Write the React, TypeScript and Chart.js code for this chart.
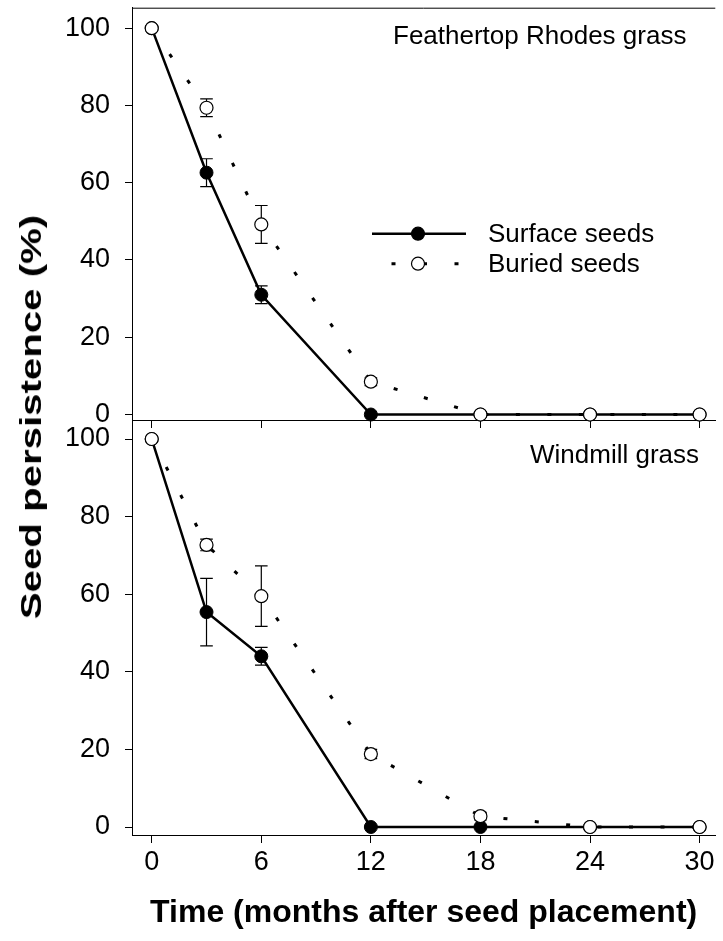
import React, { useEffect, useRef } from 'react';
import { Chart, registerables } from 'chart.js';

Chart.register(...registerables);

const FONT = '"Liberation Sans", Arial, Helvetica, sans-serif';

// ---- data ----
const months = [0, 3, 6, 12, 18, 24, 30];
const xTicks = [0, 6, 12, 18, 24, 30];
const yTicks = [0, 20, 40, 60, 80, 100];

const frSurface = [100, 62.6, 31.0, 0, 0, 0, 0];
const frSurfaceErr = [0, 3.6, 2.3, 0, 0, 0, 0];
const frBuried = [100, 79.4, 49.2, 8.5, 0, 0, 0];
const frBuriedErr = [0, 2.3, 4.9, 1.0, 0, 0, 0];

const wmSurface = [100, 55.4, 44.0, 0, 0, 0, 0];
const wmSurfaceErr = [0, 8.7, 2.3, 0, 0, 0, 0];
const wmBuried = [100, 72.7, 59.5, 18.8, 2.8, 0, 0];
const wmBuriedErr = [0, 1.5, 7.8, 1.2, 1.0, 0, 0];

const seriesNames = ['Surface seeds', 'Buried seeds'];
const panelNames = ['Feathertop Rhodes grass', 'Windmill grass'];
const xTitle = 'Time (months after seed placement)';
const yTitle = 'Seed persistence (%)';

const X_MIN = -1.08;
const X_MAX = 30.86;
const BURIED_DASH = [4, 27.5];

const errorBarPlugin = {
  id: 'errorBars',
  beforeDatasetsDraw(chart: any) {
    const ctx = chart.ctx;
    chart.data.datasets.forEach((ds: any, i: number) => {
      const errs = ds.errors;
      if (!errs) return;
      const meta = chart.getDatasetMeta(i);
      const yScale = chart.scales[meta.yAxisID];
      ctx.save();
      ctx.strokeStyle = '#000';
      ctx.lineWidth = 1.2;
      meta.data.forEach((pt: any, j: number) => {
        const e = errs[j];
        if (!e) return;
        const v = ds.data[j].y;
        const yTop = yScale.getPixelForValue(v + e);
        const yBot = yScale.getPixelForValue(v - e);
        const x = pt.x;
        const cap = 6.3;
        ctx.beginPath();
        ctx.moveTo(x, yTop);
        ctx.lineTo(x, yBot);
        ctx.moveTo(x - cap, yTop);
        ctx.lineTo(x + cap, yTop);
        ctx.moveTo(x - cap, yBot);
        ctx.lineTo(x + cap, yBot);
        ctx.stroke();
      });
      ctx.restore();
    });
  },
};

const decorPlugin = {
  id: 'panelDecor',
  afterDraw(chart: any, _args: any, opts: any) {
    const { ctx, chartArea } = chart;
    ctx.save();
    if (opts.topBorder) {
      ctx.strokeStyle = '#000';
      ctx.lineWidth = 1;
      ctx.beginPath();
      ctx.moveTo(chartArea.left, chartArea.top + 0.5);
      ctx.lineTo(chartArea.right, chartArea.top + 0.5);
      ctx.stroke();
    }
    if (opts.label) {
      ctx.fillStyle = '#000';
      ctx.font = `26px ${FONT}`;
      ctx.textAlign = 'left';
      ctx.textBaseline = 'alphabetic';
      ctx.fillText(opts.label, chartArea.left + opts.labelDx, chartArea.top + opts.labelDy);
    }
    if (opts.legend) {
      const x0 = chartArea.left + opts.legendDx;
      const x1 = x0 + 94;
      const xm = x0 + 46;
      const rows = [0, 1];
      rows.forEach((r) => {
        const y = chartArea.top + opts.legendDy + r * 30;
        ctx.strokeStyle = '#000';
        if (r === 0) {
          ctx.lineWidth = 2.5;
          ctx.setLineDash([]);
        } else {
          ctx.lineWidth = 3;
          ctx.setLineDash(BURIED_DASH);
          ctx.lineDashOffset = 12;
        }
        ctx.beginPath();
        ctx.moveTo(x0, y);
        ctx.lineTo(x1, y);
        ctx.stroke();
        ctx.setLineDash([]);
        ctx.beginPath();
        ctx.arc(xm, y, 6.5, 0, Math.PI * 2);
        ctx.fillStyle = r === 0 ? '#000' : '#fff';
        ctx.fill();
        ctx.lineWidth = 1.2;
        ctx.stroke();
        ctx.fillStyle = '#000';
        ctx.font = `26px ${FONT}`;
        ctx.textAlign = 'left';
        ctx.textBaseline = 'middle';
        ctx.fillText(seriesNames[r], x0 + 116, y + 1);
      });
    }
    ctx.restore();
  },
};

type PanelProps = {
  top: number;
  height: number;
  padTop: number;
  xAxisHeight: number;
  yMin: number;
  yMax: number;
  surface: number[];
  surfaceErr: number[];
  buried: number[];
  buriedErr: number[];
  bottomAxis: boolean;
  decor: any;
};

function Panel(p: PanelProps) {
  const ref = useRef<HTMLCanvasElement>(null);
  useEffect(() => {
    const chart = new Chart(ref.current as HTMLCanvasElement, {
      type: 'line',
      data: {
        datasets: [
          {
            label: seriesNames[0],
            data: months.map((m, i) => ({ x: m, y: p.surface[i] })),
            errors: p.surfaceErr,
            borderColor: '#000',
            backgroundColor: '#000',
            borderWidth: 2.5,
            pointRadius: 6.5,
            pointBorderWidth: 1,
            pointBackgroundColor: '#000',
            pointBorderColor: '#000',
            order: 1,
            clip: false,
          } as any,
          {
            label: seriesNames[1],
            data: months.map((m, i) => ({ x: m, y: p.buried[i] })),
            errors: p.buriedErr,
            borderColor: '#000',
            backgroundColor: '#fff',
            borderWidth: 3,
            borderDash: BURIED_DASH,
            borderCapStyle: 'butt',
            pointRadius: 6.5,
            pointBorderWidth: 1.2,
            pointBackgroundColor: '#fff',
            pointBorderColor: '#000',
            order: 0,
            clip: false,
          } as any,
        ],
      },
      options: {
        animation: false,
        responsive: false,
        devicePixelRatio: 1,
        layout: { padding: { top: p.padTop, left: 0, right: 0, bottom: 0 } },
        plugins: {
          legend: { display: false },
          tooltip: { enabled: false },
          title: { display: false },
          panelDecor: p.decor,
        } as any,
        scales: {
          x: {
            type: 'linear',
            min: X_MIN,
            max: X_MAX,
            afterBuildTicks: (s: any) => {
              s.ticks = xTicks.map((v) => ({ value: v }));
            },
            afterFit: (s: any) => {
              s.height = p.xAxisHeight;
              s.paddingLeft = 0;
              s.paddingRight = 0;
            },
            grid: { display: true, drawOnChartArea: false, drawTicks: true, tickLength: 8, color: '#000', lineWidth: 1 },
            border: { display: true, color: '#000', width: 1 },
            ticks: {
              display: p.bottomAxis,
              color: '#000',
              font: { family: FONT, size: 27 },
              padding: 3,
              maxRotation: 0,
              autoSkip: false,
              callback: (v: any) => String(v),
            },
            title: {
              display: p.bottomAxis,
              text: xTitle,
              color: '#000',
              font: { family: FONT, size: 32, weight: 'bold', lineHeight: 1 },
              padding: { top: 0, bottom: 12 },
            },
          } as any,
          y: {
            type: 'linear',
            min: p.yMin,
            max: p.yMax,
            afterBuildTicks: (s: any) => {
              s.ticks = yTicks.map((v) => ({ value: v }));
            },
            afterFit: (s: any) => {
              s.width = 132;
              s.paddingTop = 0;
              s.paddingBottom = 0;
            },
            grid: { display: true, drawOnChartArea: false, drawTicks: true, tickLength: 7, color: '#000', lineWidth: 1 },
            border: { display: true, color: '#000', width: 1 },
            ticks: { color: '#000', font: { family: FONT, size: 27 }, padding: 15, autoSkip: false },
          } as any,
        },
      },
      plugins: [errorBarPlugin, decorPlugin],
    } as any);
    return () => chart.destroy();
  }, []);
  return (
    <canvas
      ref={ref}
      width={723}
      height={p.height}
      style={{ position: 'absolute', left: 0, top: p.top, width: 723, height: p.height }}
    />
  );
}

export default function App() {
  return (
    <div style={{ position: 'absolute', left: 0, top: 0, width: 723, height: 941, background: '#fff', overflow: 'hidden' }}>
      <Panel
        top={0}
        height={440}
        padTop={7}
        xAxisHeight={20}
        yMin={-1.42}
        yMax={105.3}
        surface={frSurface}
        surfaceErr={frSurfaceErr}
        buried={frBuried}
        buriedErr={frBuriedErr}
        bottomAxis={false}
        decor={{ topBorder: true, label: panelNames[0], labelDx: 261, labelDy: 36, legend: true, legendDx: 240, legendDy: 226 }}
      />
      <Panel
        top={410}
        height={531}
        padTop={10}
        xAxisHeight={106}
        yMin={-2.06}
        yMax={104.9}
        surface={wmSurface}
        surfaceErr={wmSurfaceErr}
        buried={wmBuried}
        buriedErr={wmBuriedErr}
        bottomAxis={true}
        decor={{ topBorder: false, label: panelNames[1], labelDx: 398, labelDy: 43, legend: false }}
      />
      <div
        style={{
          position: 'absolute',
          left: 31,
          top: 417,
          transform: 'translate(-50%, -50%) rotate(-90deg) scaleX(1.34)',
          font: `bold 30px ${FONT}`,
          whiteSpace: 'nowrap',
          color: '#000',
          lineHeight: 1,
        }}
      >
        {yTitle}
      </div>
    </div>
  );
}
